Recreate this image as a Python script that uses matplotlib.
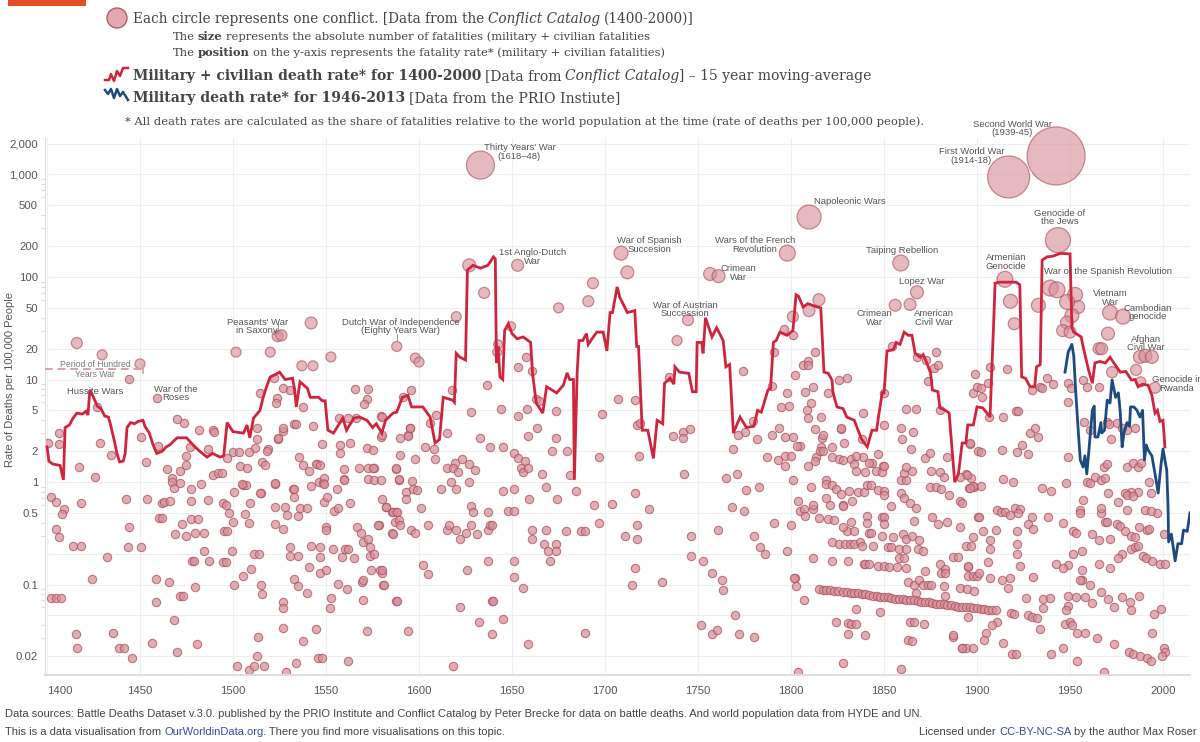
import matplotlib
matplotlib.use("Agg")
import numpy as np
import matplotlib.pyplot as plt
from matplotlib.transforms import IdentityTransform
from matplotlib.lines import Line2D
from matplotlib.patches import Circle, Rectangle

# ---- data -------------------------------------------------------------
# military + civilian death rate, 15 year moving average (Conflict Catalog)
mc_year = [1400, 1401, 1403, 1407, 1408.8, 1409.7, 1412, 1414, 1416, 1419, 1421, 1422, 1423, 1425, 1427, 1429,
           1431, 1433, 1434, 1436, 1437.6, 1439, 1441, 1442, 1443, 1445, 1447, 1449, 1451.6, 1452.6, 1455, 1457,
           1459, 1462, 1464, 1466, 1468, 1470, 1475, 1478.5, 1482, 1486, 1489, 1493, 1495, 1496.8, 1500, 1505.6,
           1507.5, 1509, 1511, 1514.5, 1516, 1518, 1520, 1522, 1525, 1528, 1532, 1533, 1534, 1536, 1540, 1541.5,
           1546, 1548, 1549.5, 1551, 1554, 1557.5, 1559, 1561, 1565, 1568, 1572, 1575, 1577, 1580, 1582, 1586,
           1588, 1591, 1594, 1596, 1602, 1606, 1608.6, 1611, 1613, 1618, 1619, 1620, 1622, 1625, 1626, 1629,
           1633, 1637, 1640, 1641, 1641.6, 1642.5, 1643.5, 1645, 1646, 1648, 1650, 1652.7, 1656, 1660, 1661,
           1663, 1666.5, 1668.6, 1674, 1677.6, 1679.6, 1681, 1683, 1683.5, 1685, 1686, 1688, 1690, 1691, 1693,
           1695.6, 1699, 1701, 1702.7, 1704, 1706.5, 1708, 1712, 1716, 1717, 1718, 1720, 1723, 1726, 1728, 1731,
           1732, 1735, 1737, 1737.6, 1740, 1745, 1747, 1749, 1749.5, 1752, 1752.7, 1754, 1757.5, 1760, 1763.5,
           1765, 1767, 1769, 1772.6, 1776, 1780, 1782, 1784, 1787.6, 1789, 1790.5, 1792, 1794, 1797.8, 1801,
           1802.7, 1804, 1806.5, 1809, 1814, 1816, 1817.7, 1820, 1822, 1822.6, 1824.7, 1828, 1830, 1834, 1835.5,
           1838, 1841, 1843.5, 1846, 1847, 1849, 1850, 1851.6, 1855, 1856.5, 1858.6, 1860.8, 1863, 1865, 1866.7,
           1869.5, 1871, 1873, 1875, 1876, 1879, 1880, 1883, 1885, 1886.5, 1888, 1890, 1892, 1894, 1895, 1898,
           1900, 1903, 1905, 1907, 1908, 1909, 1909.7, 1912, 1921, 1923, 1924, 1926, 1928.5, 1931, 1932, 1934,
           1935, 1937.6, 1941, 1944.6, 1950, 1951, 1952, 1956, 1957, 1960, 1962, 1963.4, 1966, 1969, 1971.5,
           1973, 1977, 1980, 1983, 1985, 1986.6, 1989, 1992, 1994, 1995.7, 1997, 1998.4, 2000, 2001]
mc_rate = [2.2, 1.6, 1.5, 1.45, 1.05, 3.4, 3.6, 4.2, 4.7, 4.6, 4.9, 4.5, 7.9, 6.7, 5.5, 5.2,
           4.4, 4.3, 3.7, 2.6, 1.9, 1.57, 1.6, 1.9, 3.4, 3.8, 3.7, 3.9, 4.0, 3.5, 3.0, 2.3,
           1.9, 2.0, 2.2, 2.3, 2.5, 2.7, 2.7, 2.3, 2.0, 1.75, 1.9, 1.75, 1.8, 3.8, 3.1, 3.0,
           3.6, 2.7, 4.2, 5.0, 6.5, 8.5, 10.6, 11, 11.8, 10, 10.3, 8.2, 5.4, 9.5, 8.2, 6.7,
           6.7, 6.2, 6.2, 3.2, 3.0, 3.8, 4.2, 3.2, 4.2, 4.3, 4.0, 3.4, 3.7, 3.0, 4.0, 4.7,
           4.8, 6.7, 7.0, 5.4, 5.4, 4.3, 2.4, 2.6, 6.7, 6.3, 6.0, 18, 16.5, 15.5, 117, 130,
           122, 130, 157, 150, 14.5, 21, 10.6, 10, 30, 35, 28, 25, 26, 23, 11.6,
           5.9, 4.7, 8.5, 7.4, 8.8, 11.6, 10, 10, 1.05, 11.6, 24, 24, 28, 22, 25,
           29, 29, 19, 45, 45, 80, 63, 45, 47, 21, 21, 3.2, 3.2, 1.7, 4.0, 3.7,
           9.2, 10.3, 9, 13.3, 11.8, 11.5, 7.6, 7.6, 23, 23, 18, 40, 26, 32, 24,
           13.3, 14, 3.0, 4.3, 3.4, 3.5, 5.0, 4.8, 7.9, 8.2, 23, 24, 29, 27, 30,
           67, 65, 51, 55, 51, 50, 11.8, 11.5, 9.9, 7.4, 5.4, 5.2, 4.3, 4.0, 3.4,
           2.6, 2.2, 3.2, 3.2, 4.3, 7.4, 7.4, 19, 19.5, 23, 22, 29, 27, 27, 18,
           16.5, 17.5, 14.5, 11.6, 7.9, 7.6, 5.3, 5.0, 4.7, 2.2, 1.0, 1.2, 2.4, 2.4, 3.6, 3.6,
           5.4, 5.3, 4.8, 4.3, 13.3, 38, 87, 89, 89, 84, 10.6, 10.3, 8.5, 8.5, 13.3, 14,
           146, 157, 160, 170, 168, 32, 29, 26, 21, 12.3, 9.2, 14.5, 15, 14.5, 16.5,
           15, 11.8, 12, 9.9, 10, 8.5, 9, 8.8, 7, 4.7, 5.0, 3.9, 4.0, 2.2]

# military death rate (PRIO)
mil_year = [1947.3, 1949, 1951, 1952, 1953, 1954.4, 1955.5, 1957, 1958, 1959, 1960, 1962, 1963, 1963.4, 1965,
            1966.6, 1967, 1968.5, 1970, 1971.5, 1972.6, 1974.5, 1976, 1977, 1978, 1979, 1980.6, 1982, 1982.5,
            1984.3, 1986, 1987.6, 1989, 1990, 1991, 1992, 1994, 1995.7, 1997.4, 1999, 2000, 2002, 2002.7, 2003,
            2004.5, 2006.5, 2008, 2010, 2011, 2013, 2014.5]
mil_rate = [11.8, 18.5, 22, 17, 7.9, 3.2, 1.64, 1.4, 1.8, 1.2, 1.9, 5.0, 5.5, 2.75, 2.75,
            3.8, 3.0, 3.2, 6.3, 5.9, 9.9, 6.7, 7.4, 4.8, 2.2, 3.0, 3.8, 3.5, 5.4,
            5.4, 5.0, 4.3, 5.0, 1.64, 2.3, 2.05, 1.8, 1.2, 0.78, 1.53, 2.1, 1.3, 0.57, 0.26,
            0.31, 0.17, 0.25, 0.25, 0.34, 0.33, 0.5]

# larger conflicts: (year, rate per 100k, fatalities in millions)
big_conflicts = [
    (1633, 1235, 15.4), (1917, 946, 34.6), (1942.5, 1517, 66), (1943.5, 229, 12.3), (1809.7, 385, 11.3),
    (1798, 171, 5.0), (1756.5, 107, 3.3), (1761, 102, 3.3), (1859, 137, 5.0), (1867.7, 71, 3.3),
    (1864, 54, 2.8), (1856, 53, 2.8), (1915, 95, 5.0), (1918, 58, 3.85), (1920, 35, 2.8), (1933, 53, 3.85),
    (1939.4, 78, 5.0), (1943, 75, 5.0), (1952.7, 67, 4.4), (1954.4, 51, 3.3), (1948.4, 57, 4.4),
    (1951, 42, 3.85), (1948.4, 36, 3.3), (1946, 30, 2.8), (1950, 29, 2.8), (1971.5, 45, 4.4),
    (1978.5, 41, 4.4), (1970.4, 28, 3.3), (1965.6, 20, 2.8), (1967, 20, 2.8), (1972.6, 11.8, 2.4),
    (1987.6, 16.6, 3.3), (1990.5, 17, 3.3), (1994, 16.6, 3.3), (1985.5, 12.4, 2.4), (1995.7, 8.3, 2.4),
    (1988, 9.5, 1.96), (1708.6, 171, 3.85), (1712, 111, 3.3), (1693.5, 87, 2.4), (1691, 58, 2.4),
    (1675, 50, 1.96), (1627, 130, 3.3), (1635, 70, 2.4), (1653, 130, 2.8), (1620, 41, 1.96),
    (1744.6, 38, 2.4), (1738.7, 24, 1.96), (1416, 22.7, 2.4), (1542, 35.6, 2.8), (1524, 26.5, 2.4),
    (1526, 27, 2.4), (1588, 21, 1.96), (1809.7, 47, 2.8), (1815, 60, 2.8), (1801, 41, 2.4),
    (1429.6, 17.4, 1.96), (1450, 14.2, 1.96), (1501.6, 18.5, 1.96), (1520, 18.5, 1.96),
    (1552.6, 16.6, 1.96), (1537, 13.6, 1.96), (1543, 13.6, 1.96), (1598, 16.2, 1.96), (1600, 14.8, 1.96),
    (1649.5, 33, 1.6), (1642.5, 22, 1.6), (1642, 18.5, 1.6)]

# smaller conflicts (year, rate per 100k)
pts_1400s = [
    (1400.5, 2.4), (1406.5, 2.35), (1406.5, 3.0), (1402, 0.71), (1405, 0.64), (1409, 0.55), (1408, 0.49),
    (1405, 0.35), (1406.5, 0.29), (1417, 1.4), (1418, 0.62), (1414, 0.24), (1418, 0.24), (1426, 1.12),
    (1428.5, 2.4), (1434.4, 1.83), (1442.5, 0.68), (1444, 0.36), (1443.5, 0.23), (1432, 0.185),
    (1424, 0.113), (1402, 0.074), (1405, 0.074), (1407.5, 0.074), (1415.5, 0.033), (1416, 0.024),
    (1435.5, 0.034), (1438.7, 0.024), (1441.6, 0.024), (1445.5, 0.019), (1450.5, 0.23), (1450.5, 2.75),
    (1453, 1.57), (1454, 0.68), (1456.5, 0.027), (1458.6, 0.113), (1458.6, 0.067), (1459.7, 2.25),
    (1460, 0.45), (1462, 0.45), (1462, 0.62), (1463, 0.64), (1464.5, 1.34), (1466, 0.65), (1465.6, 0.106),
    (1467, 1.1), (1467, 1.0), (1468, 0.87), (1468, 0.045), (1469, 0.31), (1469.7, 0.022), (1471.5, 1.28),
    (1471.5, 0.98), (1471.5, 0.077), (1473, 0.077), (1472.5, 0.39), (1474.7, 1.8), (1474.7, 1.47),
    (1474.7, 0.3), (1477, 2.2), (1477.5, 0.85), (1477.6, 0.65), (1477.6, 0.44), (1478, 0.17), (1479, 0.17),
    (1479.6, 0.32), (1479.6, 0.095), (1480.7, 0.026), (1481, 0.44), (1482.6, 0.96), (1484.5, 0.21),
    (1484.5, 0.32), (1486.6, 0.67), (1486.6, 2.1), (1487, 0.17), (1489, 1.17), (1492, 1.22), (1494, 1.22),
    (1494.6, 0.62), (1496, 0.6), (1494.6, 0.167), (1496, 0.165), (1496.8, 1.7), (1495, 0.33),
    (1496.5, 0.33), (1497.6, 0.5), (1444, 10.1), (1459, 6.6), (1427, 5.4), (1470, 4.1), (1473.6, 3.8),
    (1481.7, 3.2), (1489, 3.2), (1490, 3.1)]

pts_1500s = [
    (1500, 0.41), (1499.6, 0.21), (1500.5, 0.1), (1500.5, 0.8), (1502, 0.016), (1503.6, 1.43), (1505.6, 0.93),
    (1507, 0.93), (1507.5, 1.37), (1506.5, 0.49), (1508.6, 0.4), (1505.6, 0.12), (1509, 0.62), (1509.7, 0.142),
    (1508.6, 0.0146), (1511, 0.2), (1511, 0.016), (1513, 0.02), (1513.5, 0.031), (1514, 0.2), (1515, 0.099),
    (1515.6, 0.081), (1515, 0.78), (1515.6, 1.57), (1517, 1.47), (1516.7, 0.016), (1519, 2.1), (1522.6, 0.96),
    (1522.6, 0.57), (1522.6, 0.39), (1524, 2.6), (1527, 3.15), (1527, 0.35), (1527, 0.067), (1527, 0.059),
    (1527, 0.038), (1528, 0.57), (1529, 0.48), (1528.6, 0.014), (1530.6, 0.23), (1530.6, 0.19), (1532, 0.85),
    (1533, 0.71), (1533, 3.7), (1533, 0.113), (1535, 0.47), (1535, 0.19), (1535.5, 1.75), (1535, 0.096),
    (1534, 0.017), (1536, 0.56), (1537.6, 1.46), (1537.6, 0.028), (1539.6, 0.56), (1539.6, 0.083),
    (1541, 0.148), (1541, 1.28), (1542, 0.91), (1542, 0.24), (1543, 3.5), (1544.6, 0.037), (1545, 1.5),
    (1546, 1.0), (1545.7, 0.019), (1546.8, 0.13), (1547, 0.23), (1547, 0.185), (1548, 2.35), (1548, 0.019),
    (1548.6, 0.98), (1549, 0.64), (1550, 0.36), (1550, 0.34), (1550, 0.14), (1550.5, 0.71), (1552, 0.059),
    (1552.6, 0.074), (1553.8, 0.22), (1554.4, 0.52), (1556, 0.85), (1556.6, 0.56), (1556.6, 0.101),
    (1557.6, 2.3), (1557.6, 1.9), (1558.6, 0.185), (1559.4, 1.07), (1559.4, 1.34), (1560, 0.22), (1561, 0.09),
    (1562, 0.22), (1562, 0.018), (1563, 0.62), (1563, 2.4), (1565, 0.18), (1566.7, 0.36), (1567.7, 1.37),
    (1569, 0.32), (1569.4, 0.106), (1570, 0.11), (1570, 0.26), (1570, 0.07), (1572, 2.15), (1572, 0.035),
    (1572.6, 0.28), (1572.6, 1.37), (1572.6, 1.07), (1573.7, 0.23), (1573.7, 0.19), (1574, 0.14),
    (1575, 2.05), (1576, 0.2), (1576, 1.37), (1576, 1.05), (1578.5, 0.38), (1579, 0.14), (1580, 0.68),
    (1580, 0.13), (1580.7, 0.1), (1582, 0.57), (1585.5, 0.32), (1585.5, 0.51), (1587.6, 1.34), (1587.6, 0.51),
    (1587.6, 0.069), (1590, 1.83), (1590, 2.7), (1594, 2.9), (1595, 3.35), (1589, 1.05), (1593, 0.8),
    (1579.7, 4.4), (1579.7, 2.75), (1579.7, 1.05), (1565.6, 8.1), (1572.6, 8.1), (1572, 6.4), (1570.6, 5.8),
    (1595.7, 7.9), (1591.5, 6.7), (1514.5, 7.4), (1527, 8.3), (1530.6, 7.9), (1523.7, 6.6), (1523, 5.9),
    (1537.6, 5.4), (1522, 10.3), (1524, 2.7), (1527, 3.4), (1534, 3.7), (1513, 3.4), (1513, 2.6),
    (1512, 2.15), (1518, 2.0), (1500, 1.96), (1503, 1.96), (1508.6, 1.96), (1544.6, 1.5), (1547, 1.48),
    (1557, 4.2), (1562, 4.2), (1566, 4.2), (1575, 1.37), (1580, 4.3), (1522.6, 0.98), (1533, 0.85),
    (1549, 1.1), (1549, 0.95), (1559.7, 1.05), (1505, 0.95), (1514.5, 0.78)]

pts_1600s = [
    (1657.5, 16.6), (1653, 13.3), (1661, 12.1), (1636.5, 8.8), (1617.7, 7.9), (1663, 6.4), (1664.6, 6.2),
    (1707, 6.4), (1716, 6.3), (1698.4, 4.6), (1628, 4.8), (1644, 5.1), (1658, 5.1), (1673.6, 4.9), (1653, 4.4),
    (1609, 4.5), (1606, 3.8), (1595, 3.4), (1594, 2.8), (1580, 2.9), (1717, 3.6), (1719, 3.8), (1736.6, 2.8),
    (1742, 3.1), (1742, 2.7), (1745.7, 3.3), (1633, 2.7), (1615, 3.0), (1658.6, 2.8), (1663.4, 3.4),
    (1673.6, 2.7), (1603, 2.2), (1608, 2.1), (1638, 2.2), (1645, 2.2), (1671.5, 2.0), (1679.6, 2.0),
    (1651, 1.9), (1697, 1.75), (1718, 1.8), (1587.6, 1.37), (1598, 1.67), (1608.5, 1.67), (1623, 1.67),
    (1627, 1.5), (1630, 1.3), (1619.6, 1.55), (1615, 1.37), (1618, 1.37), (1621, 1.25), (1653, 1.7),
    (1657, 1.6), (1655, 1.37), (1656, 1.25), (1658.6, 1.37), (1666, 1.2), (1681, 1.17), (1742.5, 1.2),
    (1589, 1.07), (1596, 1.02), (1617, 1.0), (1627, 1.0), (1597, 0.85), (1599, 0.84), (1612, 0.85),
    (1620, 0.86), (1645, 0.82), (1651, 0.86), (1668, 0.89), (1684.5, 0.82), (1716, 0.78), (1734.4, 10.6),
    (1659, 0.68), (1674, 0.68), (1694, 0.6), (1704, 0.61), (1723.6, 0.55), (1582, 0.57), (1586, 0.51),
    (1588, 0.51), (1593, 0.68), (1601, 0.56), (1628, 0.58), (1629, 0.51), (1637, 0.51), (1648, 0.52),
    (1651, 0.52), (1587, 0.41), (1589, 0.43), (1590, 0.38), (1578, 0.38), (1586, 0.31), (1595.7, 0.34),
    (1598, 0.32), (1605, 0.38), (1615, 0.34), (1616, 0.38), (1620, 0.34), (1622, 0.28), (1625, 0.32),
    (1628, 0.38), (1631, 0.31), (1637, 0.34), (1638, 0.38), (1639, 0.38), (1661, 0.34), (1668, 0.34),
    (1661, 0.28), (1667, 0.25), (1673.6, 0.25), (1669.6, 0.21), (1673.6, 0.21), (1670.6, 0.17), (1679, 0.33),
    (1687, 0.33), (1689, 0.33), (1697, 0.4), (1711, 0.3), (1717, 0.28), (1717, 0.38), (1746, 0.3),
    (1746, 0.19), (1716, 0.145), (1714.5, 0.1), (1730.6, 0.106), (1580, 0.14), (1581, 0.1), (1588, 0.069),
    (1594, 0.035), (1602, 0.155), (1605, 0.127), (1626, 0.14), (1637, 0.17), (1651, 0.17), (1651, 0.118),
    (1656, 0.093), (1622, 0.06), (1632, 0.043), (1639, 0.069), (1640, 0.069), (1639, 0.033), (1645, 0.046),
    (1658.6, 0.026), (1689, 0.034), (1618, 0.016)]

pts_1750s = [
    (1774, 12.1), (1791, 18.5), (1790, 8.6), (1796, 31), (1801, 27), (1813, 18.5), (1809, 15), (1806.5, 13.8),
    (1809, 13.8), (1802, 11), (1798, 7.4), (1794.6, 5.4), (1799, 5.5), (1807.5, 7.6), (1812, 8.5), (1811, 5.9),
    (1808.6, 5.0), (1809, 4.2), (1816, 4.3), (1820, 7.4), (1826, 9.9), (1830, 10.3), (1838.7, 4.7), (1850, 7.4),
    (1854.4, 21), (1862, 5.1), (1867, 5.1), (1867.7, 16.6), (1872.6, 15.5), (1877, 13), (1879, 14),
    (1878, 18.5), (1873.6, 9.7), (1880, 5.0), (1899, 11.3), (1898, 7.4), (1900, 8.5), (1850, 3.6), (1859, 3.4),
    (1865.6, 3.1), (1846.8, 1.87), (1843.5, 1.53), (1838, 2.6), (1838.7, 1.75), (1849.5, 1.43), (1827, 3.3),
    (1828.5, 2.4), (1822, 2.2), (1816.7, 2.7), (1816, 2.2), (1813.5, 1.75), (1813, 1.6), (1809, 1.43),
    (1805, 2.25), (1803, 2.25), (1801, 2.75), (1797, 2.75), (1793.5, 3.35), (1790, 2.9), (1787, 1.75),
    (1781.7, 2.6), (1779.6, 3.9), (1775, 3.1), (1771.6, 2.9), (1769, 2.1), (1765, 1.1), (1771, 1.2),
    (1783, 0.89), (1776, 0.84), (1813, 3.3), (1817, 2.9), (1827, 3.4), (1793, 1.64), (1797, 1.8), (1800, 1.8),
    (1797, 1.43), (1801, 1.05), (1815.6, 2.0), (1817, 2.0), (1822, 1.75), (1826, 1.67), (1828, 1.64),
    (1832, 1.67), (1835, 1.8), (1834, 1.5), (1835, 1.28), (1840, 1.25), (1845.5, 1.28), (1849, 1.25),
    (1842, 1.53), (1850, 1.43), (1859.6, 2.65), (1864.5, 2.1), (1872, 1.72), (1874.7, 1.9), (1875, 1.28),
    (1880, 1.25), (1882, 1.12), (1884, 1.75), (1894, 1.2), (1896.6, 1.1), (1896, 2.35), (1900.5, 2.0),
    (1859, 1.05), (1861.6, 1.05), (1861, 1.22), (1865, 1.28), (1861.6, 1.4),
    (1752.7, 0.17), (1757.5, 0.13), (1763, 0.11), (1763.5, 0.088), (1770, 0.05), (1751.6, 0.04),
    (1757.5, 0.033), (1760, 0.036), (1772, 0.033), (1780, 0.031), (1803.7, 0.014), (1828, 0.017),
    (1859, 0.015), (1768, 0.57), (1774.7, 0.52), (1761, 0.34), (1780, 0.3), (1783.5, 0.23), (1786, 0.2),
    (1791, 0.4), (1798, 0.21), (1800, 0.38), (1802, 0.116), (1802.7, 0.097), (1807, 0.071), (1812, 0.18),
    (1811, 0.89), (1819, 1.05), (1819, 0.96), (1822, 0.93), (1824, 0.85), (1827, 0.76), (1831, 0.81),
    (1836, 0.8), (1839, 0.8), (1841, 0.93), (1843, 0.93), (1846.8, 0.83), (1850, 0.82), (1850, 0.75),
    (1853.8, 0.58), (1859, 0.78), (1861, 0.7), (1864, 0.62), (1867, 0.56), (1874.7, 0.89), (1878, 0.89),
    (1880.6, 0.86), (1885, 0.75), (1891, 0.66), (1892, 0.62), (1895.6, 0.87), (1898.6, 0.9), (1804, 0.65),
    (1805, 0.52), (1807, 0.55), (1807.5, 0.47), (1812, 0.55), (1812, 0.6), (1815, 0.45), (1820, 0.44),
    (1823, 0.43), (1820.7, 0.6), (1819, 0.7), (1828, 0.6), (1828, 0.58), (1833, 0.65), (1832, 0.41),
    (1830, 0.33), (1834, 0.33), (1828, 0.36), (1822, 0.26), (1826, 0.25), (1829, 0.25), (1831.7, 0.25),
    (1834, 0.25), (1837, 0.26), (1838, 0.24), (1841, 0.47), (1841, 0.4), (1842, 0.32), (1843, 0.32),
    (1844, 0.24), (1849, 0.46), (1850, 0.46), (1850, 0.39), (1849, 0.3), (1855, 0.29), (1860, 0.31),
    (1862, 0.28), (1865, 0.3), (1869, 0.27), (1866, 0.42), (1876, 0.46), (1879, 0.39), (1884, 0.41),
    (1891, 0.36), (1898, 0.29), (1900.5, 0.46), (1894, 0.24), (1896.6, 0.24), (1852, 0.23), (1854, 0.23),
    (1858, 0.22), (1862, 0.22), (1868, 0.22), (1871, 0.21), (1822, 0.17), (1830.6, 0.17), (1839, 0.16),
    (1840, 0.16), (1842, 0.16), (1847, 0.15), (1850, 0.15), (1852.6, 0.148), (1857, 0.148), (1862, 0.145),
    (1858, 0.18), (1861, 0.18), (1872, 0.135), (1880, 0.16), (1880.6, 0.13), (1883, 0.143), (1883, 0.13),
    (1887, 0.185), (1890, 0.185), (1895, 0.148), (1895, 0.12), (1898, 0.12), (1900, 0.12), (1801.6, 0.116),
    (1824, 0.043), (1830.6, 0.042), (1832, 0.041), (1835, 0.041), (1830.6, 0.033), (1835, 0.058),
    (1840, 0.032), (1848, 0.054), (1864, 0.043), (1866, 0.043), (1871.5, 0.041), (1863, 0.029),
    (1865, 0.028), (1887, 0.031), (1892, 0.024), (1894, 0.024), (1898, 0.024), (1895, 0.048), (1863, 0.106),
    (1866, 0.1), (1869, 0.11), (1871, 0.1), (1873.6, 0.1), (1875, 0.1), (1867, 0.083), (1882, 0.097),
    (1883, 0.077), (1891, 0.093), (1894.5, 0.09), (1898.6, 0.087)]

# the long run of small colonial conflicts, 1815-1910
pts_band = [
    (1815, 0.090), (1817, 0.089), (1819, 0.088), (1821, 0.088), (1823, 0.087), (1825, 0.086), (1828, 0.085),
    (1830, 0.084), (1832, 0.083), (1834, 0.082), (1836, 0.082), (1838, 0.081), (1840, 0.080), (1842, 0.079),
    (1844, 0.078), (1846, 0.077), (1848, 0.076), (1850, 0.075), (1852, 0.075), (1854, 0.074), (1856, 0.073),
    (1858, 0.073), (1860, 0.072), (1862, 0.071), (1864, 0.070), (1866, 0.070), (1868, 0.069), (1870, 0.068),
    (1872, 0.067), (1874, 0.067), (1876, 0.066), (1878, 0.065), (1880, 0.065), (1882, 0.064), (1884, 0.063),
    (1886, 0.063), (1888, 0.062), (1890, 0.061), (1892, 0.061), (1894, 0.060), (1896, 0.060), (1898, 0.059),
    (1900, 0.059), (1902, 0.058), (1904, 0.058), (1906, 0.057), (1908, 0.056), (1910, 0.056)]

pts_1900s = [
    (1907, 13.3), (1916, 12.6), (1902, 8.3), (1902.7, 6.8), (1906, 9.2), (1906.5, 4.3), (1914, 4.3),
    (1921, 4.9), (1922, 4.9), (1929.6, 7.9), (1934, 8.5), (1935, 8.3), (1937.6, 10.3), (1941, 9.0),
    (1949, 9.2), (1950.5, 8.3), (1949, 6.0), (1957, 9.9), (1959, 8.5), (1965.6, 8.5), (1948, 0.98),
    (1957.6, 3.85), (1960.8, 3.2), (1970, 3.85), (1971, 3.7), (1975.5, 3.8), (1978, 3.4), (1980.6, 3.2),
    (1985, 3.4), (1972, 2.6), (1968, 1.4), (1970, 1.5), (1980.6, 1.4), (1984, 1.53), (1986.6, 1.4),
    (1988, 1.53), (1992.5, 1.0), (1986.6, 0.8), (1983, 0.8), (1979.6, 0.78), (1980.6, 0.74), (1993.6, 0.78),
    (1984, 0.73), (1970.4, 0.78), (1957, 0.67), (1949, 1.75), (1959, 1.0), (1960.7, 0.97), (1963.4, 1.12),
    (1966.5, 1.05), (1969, 1.1), (1955.5, 0.53), (1955.5, 0.5), (1946.3, 0.4), (1951.6, 0.33), (1953, 0.32),
    (1956.5, 0.21), (1956.5, 0.11), (1958, 0.075), (1962, 0.066), (1962, 0.31), (1965.6, 0.27),
    (1966.6, 0.5), (1968.6, 0.41), (1970, 0.41), (1971.5, 0.28), (1975.5, 0.39), (1977, 0.37),
    (1979.6, 0.33), (1983, 0.3), (1985, 0.29), (1987, 0.36), (1991.4, 0.34), (1992.4, 0.35), (1996.8, 0.5),
    (1990.4, 0.53), (1993.4, 0.52), (2000.5, 0.31), (1980.6, 0.53), (1975.6, 0.64), (1966.8, 0.56),
    (1983, 0.22), (1985, 0.23), (1986.6, 0.24), (1989, 0.19), (1991, 0.18), (1994, 0.17), (1998.4, 0.16),
    (2001, 0.16), (1978, 0.2), (1976, 0.18), (1971.5, 0.145), (1965.6, 0.16), (1956.5, 0.14), (1951.6, 0.2),
    (1949, 0.155), (1946, 0.145), (1942.6, 0.16), (1955.5, 0.11), (1961, 0.1), (1966.6, 0.085),
    (1970.4, 0.072), (1973.7, 0.06), (1978, 0.075), (1982.5, 0.067), (1983, 0.057), (1987.2, 0.077),
    (1995, 0.052), (1999, 0.058), (1949, 0.077), (1953, 0.075), (1949, 0.062), (1948, 0.057),
    (1947.3, 0.041), (1950, 0.043), (1951, 0.04), (1954, 0.034), (1958, 0.034), (1964.5, 0.03),
    (1973.5, 0.026), (1981.6, 0.022), (1984, 0.021), (1987.6, 0.02), (1991.3, 0.019), (1993.4, 0.018),
    (1994, 0.034), (2000.5, 0.024), (2001, 0.022), (1999.6, 0.02), (1968, 0.014), (1953.8, 0.018),
    (1946, 0.024), (1896, 2.4), (1894.6, 1.17), (1898, 0.91), (1902, 0.91), (1896, 0.87), (1902, 1.96),
    (1914, 1.07), (1919.6, 1.0), (1913.6, 2.05), (1921.5, 1.96), (1924, 2.3), (1927.4, 1.87), (1928.6, 3.0),
    (1931, 3.35), (1933, 2.75), (1935, 0.87), (1940, 0.82), (1901, 0.46), (1903, 0.33), (1907, 0.27),
    (1907, 0.22), (1910, 0.34), (1911, 0.53), (1913, 0.51), (1915, 0.51), (1917.7, 0.48), (1920.5, 0.56),
    (1923, 0.55), (1922, 0.5), (1921.5, 0.33), (1921.5, 0.25), (1921.5, 0.2), (1927.4, 0.39), (1930, 0.35),
    (1929.6, 0.46), (1938, 0.46), (1906, 0.165), (1895, 0.15), (1901, 0.13), (1907, 0.115),
    (1913.6, 0.11), (1917.7, 0.115), (1916.7, 0.093), (1923, 0.15), (1926.3, 0.074), (1930, 0.118),
    (1935.5, 0.072), (1939.4, 0.074), (1935.5, 0.059), (1934, 0.037), (1927.4, 0.05), (1929.6, 0.048),
    (1932, 0.047), (1918, 0.053), (1920, 0.052), (1911, 0.043), (1908, 0.04), (1905, 0.034), (1904, 0.029),
    (1914, 0.027), (1919, 0.021), (1921, 0.021), (1940, 0.021), (1892, 0.024), (1887, 0.032), (1891, 1.12)]

labels = [
    ("Hussite Wars", 1426, 7.7), ("War of the\nRoses", 1469, 7.3),
    ("Peasants' War\nin Saxony", 1513, 33), ("Dutch War of Independence\n(Eighty Years War)", 1590, 33),
    ("Thirty Years' War\n(1618\u201348)", 1654, 1650), ("1st Anglo-Dutch\nWar", 1661, 157),
    ("War of Spanish\nSuccesion", 1724, 205), ("War of Austrian\nSuccession", 1743, 48),
    ("Crimean\nWar", 1771.5, 110), ("Wars of the French\nRevolution", 1780.6, 205),
    ("Napoleonic Wars", 1831.7, 545), ("Taiping Rebellion", 1859.7, 183), ("Lopez War", 1870, 91),
    ("Crimean\nWar", 1844.6, 40), ("American\nCivil War", 1877, 40),
    ("First World War\n(1914-18)", 1897, 1520), ("Second World War\n(1939-45)", 1919, 2800),
    ("Armenian\nGenocide", 1915.6, 140), ("Genocide of\nthe Jews", 1944.6, 380),
    ("War of the Spanish Revolution", 1970.4, 112), ("Vietnam\nWar", 1971.5, 62),
    ("Cambodian\ngenocide", 1992, 45), ("Afghan\nCivil War", 1991, 22.5), ("Genocide in\nRwanda", 2007.5, 9.0)]

yticks = [0.02, 0.05, 0.1, 0.2, 0.5, 1, 2, 5, 10, 20, 50, 100, 200, 500, 1000, 2000]
ylabels = ["0.02", "", "0.1", "", "0.5", "1", "2", "5", "10", "20", "50", "100", "200", "500", "1,000", "2,000"]
xticks = list(range(1400, 2001, 50))

# ---- drawing ----------------------------------------------------------
W, H = 1200, 742
RED = "#d0243d"
BLUE = "#1d4b80"
PINK = "#d78f99"
EDGE = "#a94f5d"
GREY = "#555555"
SANS = "Liberation Sans"
SERIF = "DejaVu Serif"

fig = plt.figure(figsize=(12, 7.42), dpi=100)
ax = fig.add_axes([45 / W, 67 / H, 1145 / W, 537 / H])
ax.set_yscale("log")
ax.set_xlim(1398.9, 2014.5)
ax.set_ylim(0.0131, 2270)

small = pts_1400s + pts_1500s + pts_1600s + pts_1750s + pts_band + pts_1900s
sx = [p[0] for p in small]
sy = [p[1] for p in small]
ax.scatter(sx, sy, s=36, facecolor=PINK, edgecolor=EDGE, alpha=0.72, linewidth=0.8, zorder=2)

bx = [b[0] for b in big_conflicts]
by = [b[1] for b in big_conflicts]
bs = [26.4 * b[2] for b in big_conflicts]
ax.scatter(bx, by, s=bs, facecolor=PINK, edgecolor=EDGE, alpha=0.62, linewidth=0.9, zorder=2,
           clip_on=False)

ax.plot(mc_year, mc_rate, color=RED, lw=2.0, zorder=4, solid_joinstyle="miter")
ax.plot(mil_year, mil_rate, color=BLUE, lw=2.0, zorder=4)

for txt, x, y in labels:
    ax.text(x, y, txt, ha="center", va="center", fontsize=6.8, color=GREY, family=SANS,
            linespacing=0.95, zorder=5)

# leader lines
ax.plot([1524.2, 1524.2], [34.5, 28.5], color="#888888", lw=0.6, zorder=5)
ax.plot([1588.2, 1588.2], [27.5, 23.5], color="#888888", lw=0.6, zorder=5)

# period of the hundred years war
ax.plot([1399, 1451.6], [12.7, 12.7], color="#d6a3aa", lw=1.4, ls=(0, (4, 2.5)), zorder=3)
ax.plot([1451.6, 1451.6], [11.6, 13.9], color="#d6a3aa", lw=1.2, zorder=3)
ax.text(1426, 14.1, "Period of Hundred", ha="center", va="center", fontsize=6.2, color="#777777", family=SANS)
ax.text(1426, 11.3, "Years War", ha="center", va="center", fontsize=6.2, color="#777777", family=SANS)

ax.set_yticks(yticks)
ax.set_yticklabels(ylabels)
ax.yaxis.set_minor_locator(matplotlib.ticker.LogLocator(base=10, subs=np.arange(2, 10)))
ax.yaxis.set_minor_formatter(matplotlib.ticker.NullFormatter())
ax.set_xticks(xticks)
ax.set_xticklabels([str(x) for x in xticks])
ax.get_xticklabels()[0].set_horizontalalignment("left")
ax.tick_params(axis="y", which="major", length=0, pad=5, labelsize=8.2, labelcolor=GREY)
ax.tick_params(axis="y", which="minor", length=3, color="#dddddd", width=0.8)
ax.tick_params(axis="x", length=0, pad=8, labelsize=8.2, labelcolor=GREY)
for lab in ax.get_xticklabels() + ax.get_yticklabels():
    lab.set_family(SANS)
ax.grid(True, which="major", color="#efefef", lw=0.8)
ax.set_axisbelow(True)
for side in ("top", "right"):
    ax.spines[side].set_visible(False)
ax.spines["left"].set_color("#dddddd")
ax.spines["bottom"].set_color("#dddddd")
ax.spines["bottom"].set_linewidth(1.5)
ax.set_ylabel("Rate of Deaths per 100,000 People", fontsize=8, color=GREY, family=SANS)
ax.yaxis.set_label_coords(-30 / 1145, 0.551)

# ---- header and footer (pixel coordinates, origin top-left) ------------
renderer = fig.canvas.get_renderer()
ident = IdentityTransform()


def place_parts(x, baseline, parts, size, family, space):
    sp = space * size * fig.dpi / 72
    texts = []
    for txt, weight, style, color in parts:
        if txt.startswith(" "):
            x += sp
        t = fig.text(x, H - baseline, txt.strip(), transform=ident, fontsize=size, family=family,
                     fontweight=weight, fontstyle=style, color=color, va="baseline")
        texts.append(t)
        x += t.get_window_extent(renderer).width
        if txt.endswith(" "):
            x += sp
    return texts, x


def rich_line(x, baseline, parts, size, family, space):
    place_parts(x, baseline, parts, size, family, space)


def right_line(xr, baseline, parts, size, family, space):
    texts, end = place_parts(0, baseline, parts, size, family, space)
    for t in texts:
        t.set_x(t.get_position()[0] + xr - end)


fig.add_artist(Rectangle((8, H - 6), 78, 6, transform=ident, color="#e44c2c", lw=0))

HEAD = "#444444"
SP = 0.26
fig.add_artist(Circle((117, H - 18), 10, transform=ident, facecolor="#e3a7af", edgecolor="#b0606c", lw=1))
rich_line(133, 23, [("Each circle represents one conflict. [Data from the ", "normal", "normal", HEAD),
                    ("Conflict Catalog", "normal", "italic", HEAD),
                    (" (1400-2000)]", "normal", "normal", HEAD)], 9.8, SERIF, SP)
rich_line(173, 40.5, [("The ", "normal", "normal", HEAD), ("size", "bold", "normal", HEAD),
                      (" represents the absolute number of fatalities (military + civilian fatalities",
                       "normal", "normal", HEAD)], 8.25, SERIF, SP)
rich_line(173, 56.5, [("The ", "normal", "normal", HEAD), ("position", "bold", "normal", HEAD),
                      (" on the y-axis represents the fatality rate* (military + civilian fatalities)",
                       "normal", "normal", HEAD)], 8.25, SERIF, SP)

icon_red = [(105, 80), (109, 80), (111, 74), (114, 81), (117, 71), (120, 76), (123, 68), (128, 68)]
icon_blue = [(105, 90), (108, 94), (111, 89), (114, 98), (117, 89), (120, 96), (123, 92), (128, 100)]
fig.add_artist(Line2D([p[0] for p in icon_red], [H - p[1] for p in icon_red], transform=ident,
                      color=RED, lw=1.8))
fig.add_artist(Line2D([p[0] for p in icon_blue], [H - p[1] for p in icon_blue], transform=ident,
                      color=BLUE, lw=1.8))
rich_line(133, 80, [("Military + civilian death rate* for 1400-2000 ", "bold", "normal", HEAD),
                    ("[Data from ", "normal", "normal", HEAD), ("Conflict Catalog", "normal", "italic", HEAD),
                    ("] \u2013 15 year moving-average", "normal", "normal", HEAD)], 10.0, SERIF, SP)
rich_line(133, 102, [("Military death rate* for 1946-2013 ", "bold", "normal", HEAD),
                     ("[Data from the PRIO Instiute]", "normal", "normal", HEAD)], 10.1, SERIF, SP)
rich_line(125, 125, [("* All death rates are calculated as the share of fatalities relative to the world "
                      "population at the time (rate of deaths per 100,000 people).", "normal", "normal", HEAD)],
          8.25, SERIF, SP)

FOOT = "#444444"
LINK = "#3b4aa0"
rich_line(5, 717, [("Data sources: Battle Deaths Dataset v.3.0. published by the PRIO Institute and Conflict "
                    "Catalog by Peter Brecke for data on battle deaths. And world population data from HYDE and UN.",
                    "normal", "normal", FOOT)], 8.0, SANS, 0.278)
rich_line(5, 735, [("This is a data visualisation from ", "normal", "normal", FOOT),
                   ("OurWorldinData.org", "normal", "normal", LINK),
                   (". There you find more visualisations on this topic.", "normal", "normal", FOOT)],
          8.0, SANS, 0.278)
right_line(1197, 735, [("Licensed under ", "normal", "normal", FOOT), ("CC-BY-NC-SA", "normal", "normal", LINK),
                       (" by the author Max Roser", "normal", "normal", FOOT)], 8.0, SANS, 0.278)

fig.savefig("out.png", dpi=100)
